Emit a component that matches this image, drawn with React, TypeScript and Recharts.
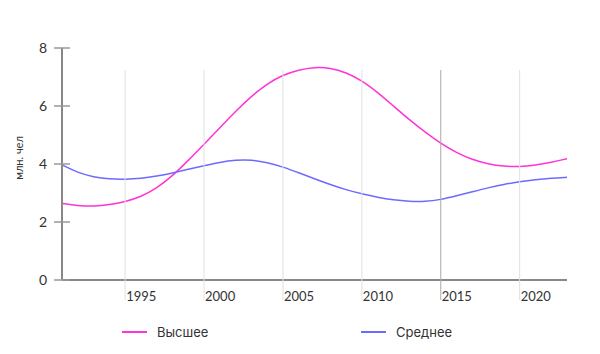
import React from 'react';
import { Legend, Line, LineChart, XAxis, YAxis } from 'recharts';

if (typeof document !== 'undefined') document.body.style.margin = '0';

const years = [
  1991, 1992, 1993, 1994, 1995, 1996, 1997, 1998, 1999, 2000, 2001, 2002, 2003, 2004, 2005, 2006, 2007,
  2008, 2009, 2010, 2011, 2012, 2013, 2014, 2015, 2016, 2017, 2018, 2019, 2020, 2021, 2022, 2023,
];
const higher = [
  2.64, 2.56, 2.54, 2.59, 2.7, 2.87, 3.16, 3.59, 4.12, 4.68, 5.25, 5.82, 6.34, 6.77, 7.07, 7.25, 7.34,
  7.32, 7.16, 6.88, 6.47, 6.0, 5.53, 5.1, 4.71, 4.39, 4.15, 4.0, 3.92, 3.9, 3.96, 4.06, 4.18,
];
const secondary = [
  3.97, 3.7, 3.55, 3.48, 3.47, 3.5, 3.58, 3.69, 3.82, 3.94, 4.06, 4.14, 4.15, 4.05, 3.9, 3.7, 3.49,
  3.29, 3.11, 2.97, 2.85, 2.76, 2.71, 2.7, 2.77, 2.9, 3.04, 3.18, 3.3, 3.39, 3.46, 3.51, 3.54,
];
const xTicks = [1995, 2000, 2005, 2010, 2015, 2020];
const yTicks = [0, 2, 4, 6, 8];
const seriesNames = ['Высшее', 'Среднее'];
const yLabel = 'млн. чел';

const PINK = '#ff33d6';
const BLUE = '#6b6bff';

const data = years.map((year, i) => ({ year, higher: higher[i], secondary: secondary[i] }));

function XTick(props: any) {
  const { x, y, payload } = props;
  const stroke = payload.value === 2015 ? '#aaaaaa' : '#e0e0e0';
  return (
    <g>
      <line x1={x} x2={x} y1={y - 210} y2={y + 20} stroke={stroke} strokeWidth={1} />
      <text x={x + 1} y={y + 21} textAnchor="start" fontSize={13} fill="#333" fontFamily="Lato">
        {payload.value}
      </text>
    </g>
  );
}

function YTick(props: any) {
  const { x, y, payload } = props;
  return (
    <g>
      <line x1={x + 7} x2={x + 23} y1={y} y2={y} stroke="#999" strokeWidth={1.5} />
      <text x={x} y={y} dy={5} textAnchor="end" fontSize={14} fill="#333" fontFamily="Lato">
        {payload.value}
      </text>
    </g>
  );
}

function YLabel(props: any) {
  const { viewBox } = props;
  const cx = 18;
  const cy = viewBox.y + viewBox.height / 2 - 6;
  return (
    <text
      x={cx}
      y={cy}
      transform={`rotate(-90, ${cx}, ${cy})`}
      textAnchor="middle"
      dominantBaseline="central"
      fontSize={11}
      fill="#333"
      fontFamily="Lato"
    >
      {yLabel}
    </text>
  );
}

function LegendContent() {
  const colors = [PINK, BLUE];
  return (
    <div style={{ display: 'flex', paddingLeft: 122, fontFamily: 'Inter', fontSize: 13, color: '#333' }}>
      {seriesNames.map((name, i) => (
        <div key={name} style={{ width: 241, display: 'flex', alignItems: 'center' }}>
          <span style={{ display: 'inline-block', width: 25, height: 2, background: colors[i], marginRight: 10 }} />
          <span>{name}</span>
        </div>
      ))}
    </div>
  );
}

export default function App() {
  return (
    <LineChart width={600} height={354} data={data} margin={{ top: 48, right: 33, bottom: 28, left: 0 }}>
      <XAxis
        type="number"
        dataKey="year"
        domain={[1991, 2023]}
        ticks={xTicks}
        axisLine={{ stroke: '#888', strokeWidth: 2 }}
        tickLine={false}
        tickSize={0}
        tickMargin={0}
        tick={<XTick />}
        height={30}
        interval={0}
      />
      <YAxis
        type="number"
        domain={[0, 8]}
        ticks={yTicks}
        axisLine={{ stroke: '#888', strokeWidth: 2 }}
        tickLine={false}
        tickSize={0}
        tickMargin={15}
        tick={<YTick />}
        width={62}
        interval={0}
        label={<YLabel />}
      />
      <Legend
        content={<LegendContent />}
        wrapperStyle={{ position: 'absolute', top: 324, left: 0, width: 600 }}
      />
      <Line
        type="basis"
        dataKey="higher"
        name={seriesNames[0]}
        stroke={PINK}
        strokeWidth={1.5}
        dot={false}
        activeDot={false}
        isAnimationActive={false}
      />
      <Line
        type="basis"
        dataKey="secondary"
        name={seriesNames[1]}
        stroke={BLUE}
        strokeWidth={1.5}
        dot={false}
        activeDot={false}
        isAnimationActive={false}
      />
    </LineChart>
  );
}
